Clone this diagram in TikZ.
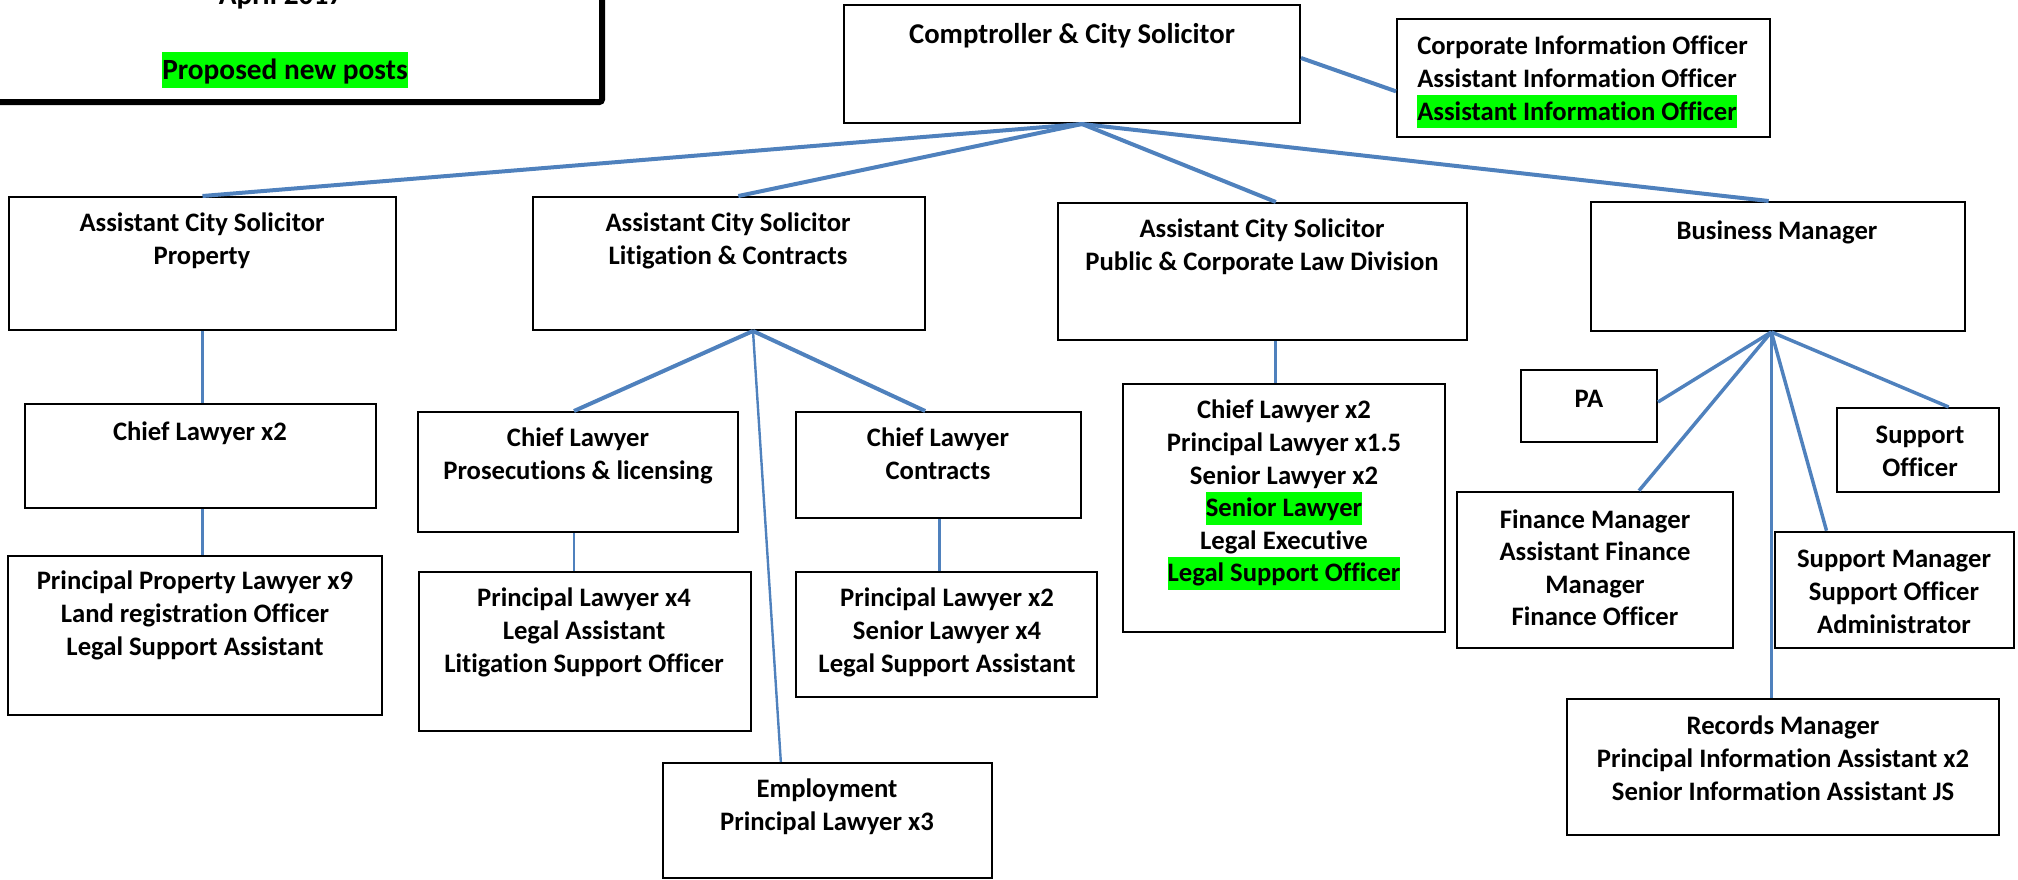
\documentclass[tikz,border=0pt]{standalone}
\usepackage{fontspec}
\setmainfont{Carlito}[Ligatures=NoCommon]
\usetikzlibrary{fit}
\definecolor{linkblue}{RGB}{79,129,189}
\definecolor{newpostgreen}{RGB}{0,255,0}
% green highlight for proposed new posts
\newcommand\newpost[1]{{\setlength\fboxsep{0pt}\colorbox{newpostgreen}{\rule[-0.3em]{0pt}{1.22em}#1}}}
\begin{document}
\begin{tikzpicture}[x=0.75pt,y=-0.75pt,
  box/.style={draw=black,line width=1.5pt,inner sep=0pt},
  boldbox/.style={box,line width=2pt},
  % multi-line texts are placed by the baseline of their last line
  txt/.style={font=\fontsize{20}{24.4}\selectfont\bfseries,align=center,inner sep=0pt,anchor=base},
  legtxt/.style={txt,font=\fontsize{22}{26}\selectfont\bfseries},
  link/.style={draw=linkblue,line width=3pt},
  thinlink/.style={draw=linkblue,line width=2.2pt},
]
\useasboundingbox (0,0) rectangle (2018,879);
\clip (0,0) rectangle (2018,879);

% key box in the top left corner
\node[box,line width=4.5pt,rounded corners=2pt,fit={(-20,-20) (602,102)}] (legend) {};
\node[legtxt] (legdate) at (281,4) {April 2017};
\node[legtxt] (legkey) at (285,79) {\newpost{Proposed new posts}};

% boxes
\node[box,fit={(844,5) (1300,123)}] (comp) {};
\node[box,fit={(1397,19) (1770,137)}] (info) {};
\node[box,fit={(9,197) (396,330)}] (acsprop) {};
\node[box,fit={(533,197) (925,330)}] (acslit) {};
\node[box,fit={(1058,203) (1467,340)}] (acspub) {};
\node[box,fit={(1591,202) (1965,331)}] (bizman) {};
\node[box,fit={(25,404) (376,508)}] (propchief) {};
\node[box,fit={(8,556) (382,715)}] (propstaff) {};
\node[box,fit={(418,412) (738,532)}] (prosechief) {};
\node[box,fit={(419,572) (751,731)}] (prosestaff) {};
\node[box,fit={(796,412) (1081,518)}] (contchief) {};
\node[box,fit={(796,572) (1097,697)}] (contstaff) {};
\node[box,fit={(663,763) (992,878)}] (employ) {};
\node[box,fit={(1123,384) (1445,632)}] (pubstaff) {};
\node[box,fit={(1521,370) (1657,442)}] (pa) {};
\node[box,fit={(1837,408) (1999,492)}] (suppoff) {};
\node[boldbox,fit={(1457,492) (1733,648)}] (finance) {};
\node[boldbox,fit={(1775,532) (2014,648)}] (suppman) {};
\node[box,fit={(1567,699) (1999,835)}] (records) {};

% texts
\node[txt,font=\fontsize{21.5}{26}\selectfont\bfseries] (compt) at (1072,43) {Comptroller \& City Solicitor};
\node[txt,align=left,anchor=base west] (infot) at (1417,120)
  {Corporate Information Officer\\Assistant Information Officer\\\newpost{Assistant Information Officer}};
\node[txt] (acspropt) at (202,264.5) {Assistant City Solicitor\\Property};
\node[txt] (acslitt) at (728,264.5) {Assistant City Solicitor\\Litigation \& Contracts};
\node[txt] (acspubt) at (1262,270.5) {Assistant City Solicitor\\Public \& Corporate Law Division};
\node[txt] (bizmant) at (1777,239) {Business Manager};
\node[txt] (propchieft) at (200,440) {Chief Lawyer x2};
\node[txt] (propstafft) at (195,655) {Principal Property Lawyer x9\\Land registration Officer\\Legal Support Assistant};
\node[txt] (prosechieft) at (578,479.5) {Chief Lawyer\\Prosecutions \& licensing};
\node[txt] (prosestafft) at (584,672) {Principal Lawyer x4\\Legal Assistant\\Litigation Support Officer};
\node[txt] (contchieft) at (938,479.5) {Chief Lawyer\\Contracts};
\node[txt] (contstafft) at (947,672) {Principal Lawyer x2\\Senior Lawyer x4\\Legal Support Assistant};
\node[txt] (employt) at (827,830.5) {Employment\\Principal Lawyer x3};
\node[txt] (pubstafft) at (1284,581.6) {Chief Lawyer x2\\Principal Lawyer x1.5\\Senior Lawyer x2\\\newpost{Senior Lawyer}\\Legal Executive\\\newpost{Legal Support Officer}};
\node[txt] (pat) at (1589,407) {PA};
\node[txt] (suppofft) at (1920,476.5) {Support\\Officer};
\node[txt] (financet) at (1595,625.6) {Finance Manager\\Assistant Finance\\Manager\\Finance Officer};
\node[txt] (suppmant) at (1894,633) {Support Manager\\Support Officer\\Administrator};
\node[txt] (recordst) at (1783,800) {Records Manager\\Principal Information Assistant x2\\Senior Information Assistant JS};

% connectors
\coordinate (comphub) at ([xshift=7.5pt]comp.south);
\coordinate (lithub) at ([xshift=18pt]acslit.south);
\coordinate (bizhub) at ([xshift=-5pt]bizman.south);
\draw[link] ([yshift=4.5pt]comp.east) -- ([yshift=-10pt]info.west);
\draw[link] (comphub) -- (acsprop.north);
\draw[link] (comphub) -- ([xshift=7pt]acslit.north);
\draw[link] (comphub) -- ([xshift=10pt]acspub.north);
\draw[link] (comphub) -- ([xshift=-7pt]bizman.north);
\draw[thinlink] (acsprop.south) -- (acsprop.south |- propchief.north);
\draw[thinlink] (acsprop.south |- propchief.south) -- (acsprop.south |- propstaff.north);
\draw[link] (lithub) -- ([xshift=-3pt]prosechief.north);
\draw[link] (lithub) -- ([xshift=-10pt]contchief.north);
\draw[thinlink,line width=1.8pt] (lithub) -- ([xshift=-35pt]employ.north);
\draw[thinlink] ([xshift=-3pt]prosechief.south) -- ([xshift=-3pt]prosechief.south |- prosestaff.north);
\draw[thinlink] ([xshift=1pt]contchief.south) -- ([xshift=1pt]contchief.south |- contstaff.north);
\draw[thinlink] ([xshift=10pt]acspub.south) -- ([xshift=10pt]acspub.south |- pubstaff.north);
\draw[link,line width=2.6pt] (bizhub) -- ([yshift=3pt]pa.east);
\draw[link,line width=2.6pt] (bizhub) -- ([xshift=33pt]finance.north);
\draw[link,line width=2.6pt] (bizhub) -- ([xshift=23pt]suppoff.north);
\draw[link,line width=2.6pt] (bizhub) -- ([xshift=-51pt]suppman.north);
\draw[link,line width=2.6pt] (bizhub) -- (bizhub |- records.north);
\end{tikzpicture}
\end{document}
